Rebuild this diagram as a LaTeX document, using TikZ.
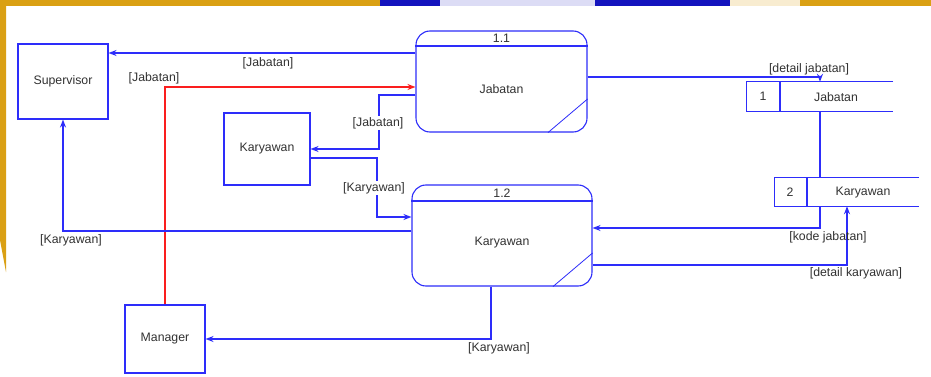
\documentclass[tikz,border=0pt]{standalone}
\usepackage{fontspec}
\setmainfont{Liberation Sans}
\usetikzlibrary{arrows.meta}
\pgfdeclarelayer{background}
\pgfsetlayers{background,main}
\definecolor{dfdline}{RGB}{45,45,250}
\definecolor{dfdtext}{RGB}{50,50,50}
\definecolor{dfdred}{RGB}{250,30,30}
\definecolor{bggold}{RGB}{218,160,20}
\definecolor{bgblue}{RGB}{20,20,190}
\begin{document}
\begin{tikzpicture}[x=1pt,y=-1pt,
    font=\fontsize{12.3}{14}\selectfont,
    entity/.style={draw=dfdline, line width=1.1pt, fill=white, inner sep=0pt, text=dfdtext},
    proc/.style={draw=dfdline, line width=1.1pt, rounded corners=14pt, fill=white, inner sep=0pt},
    store/.style={fill=white, inner sep=0pt},
    txt/.style={text=dfdtext, inner sep=1pt},
    flow/.style={color=dfdline, line width=1.2pt, -{Stealth[length=8pt,width=6pt]}}]
  \useasboundingbox (0,0) rectangle (931,377);
  % background picture
  \begin{pgfonlayer}{background}
    \fill[white] (0,0) rectangle (931,377);
    \fill[bggold] (0,0) rectangle (931,6);
    \fill[bgblue] (380,0) rectangle (440,6);
    \fill[white!85!bgblue] (440,0) rectangle (595,6);
    \fill[bgblue] (595,0) rectangle (730,6);
    \fill[white!80!bggold] (730,0) rectangle (800,6);
    \fill[bggold] (0,0) -- (6,0) -- (6,272) -- (0,240) -- cycle;
  \end{pgfonlayer}
  % entities
  \draw
    (63,81.5) node[entity, minimum width=90pt, minimum height=75pt] (sup){Supervisor}
    (267,149) node[entity, minimum width=86pt, minimum height=72pt] (kar){Karyawan}
    (165,339) node[entity, minimum width=80pt, minimum height=68pt] (man){Manager};
  % processes
  \draw
    (501.5,81.5) node[proc, minimum width=171pt, minimum height=101pt] (p11){}
    (502,235.5) node[proc, minimum width=180pt, minimum height=101pt] (p12){};
  \draw[dfdline, line width=1.1pt] (p11.west |- 0,46) -- (p11.east |- 0,46);
  \draw[dfdline, line width=0.8pt] (p11.south -| 548,0) -- (p11.east |- 0,99);
  \draw[dfdline, line width=1.1pt] (p12.west |- 0,201) -- (p12.east |- 0,201);
  \draw[dfdline, line width=0.8pt] (p12.south -| 553,0) -- (p12.east |- 0,253);
  \draw
    (501.5,38.5) node[txt] (p11id){1.1}
    (501.5,89) node[txt] (p11name){Jabatan}
    (502,193) node[txt] (p12id){1.2}
    (502,243) node[txt] (p12name){Karyawan};
  % data stores
  \draw
    (820,96.5) node[store, minimum width=146pt, minimum height=29pt] (s1){}
    (847,192) node[store, minimum width=144pt, minimum height=28pt] (s2){};
  \draw[dfdline, line width=1.1pt] (s1.north east) -- (s1.north west) -- (s1.south west) -- (s1.south east);
  \draw[dfdline, line width=1.1pt] (s1.north -| 780,0) -- (s1.south -| 780,0);
  \draw[dfdline, line width=1.1pt] (s2.north east) -- (s2.north west) -- (s2.south west) -- (s2.south east);
  \draw[dfdline, line width=1.1pt] (s2.north -| 807,0) -- (s2.south -| 807,0);
  \draw
    (763,96) node[txt] (s1id){1}
    (836,97) node[txt] (s1name){Jabatan}
    (790,192) node[txt] (s2id){2}
    (863,193) node[txt] (s2name){Karyawan};
  % flows
  \begin{scope}
    \draw[flow] (p11.west |- 0,53) -- (sup.east |- 0,53);
    \draw[flow, color=dfdred] (man.north) -- (man.north |- 0,87) -- (p11.west |- 0,87);
    \draw[flow] (p11.west |- 0,95) -- (379,95) |- (kar.east |- 0,149);
    \draw[flow] (kar.east |- 0,158) -| (377,217) -- (p12.west |- 0,217);
    \draw[flow] (p12.west |- 0,231) -| (sup.south);
    \draw[flow] (p12.south -| 491,0) |- (man.east);
    \draw[flow] (p11.east |- 0,77) -| (s1.north -| 820,0);
    \begin{pgfonlayer}{background}
      \draw[flow] (s1.south -| 820,0) |- (p12.east |- 0,228);
    \end{pgfonlayer}
    \draw[flow] (p12.east |- 0,265) -| (s2.south -| 847,0);
  \end{scope}
  % flow labels
  \draw
    (268,63) node[txt] (l1){[Jabatan]}
    (154,78) node[txt] (l2){[Jabatan]}
    (378,123) node[txt, fill=white] (l3){[Jabatan]}
    (374,188) node[txt, fill=white] (l4){[Karyawan]}
    (71,240) node[txt] (l5){[Karyawan]}
    (499,348) node[txt] (l6){[Karyawan]}
    (809,69) node[txt] (l7){[detail jabatan]}
    (828,237) node[txt] (l8){[kode jabatan]}
    (856,273) node[txt] (l9){[detail karyawan]};
\end{tikzpicture}
\end{document}
